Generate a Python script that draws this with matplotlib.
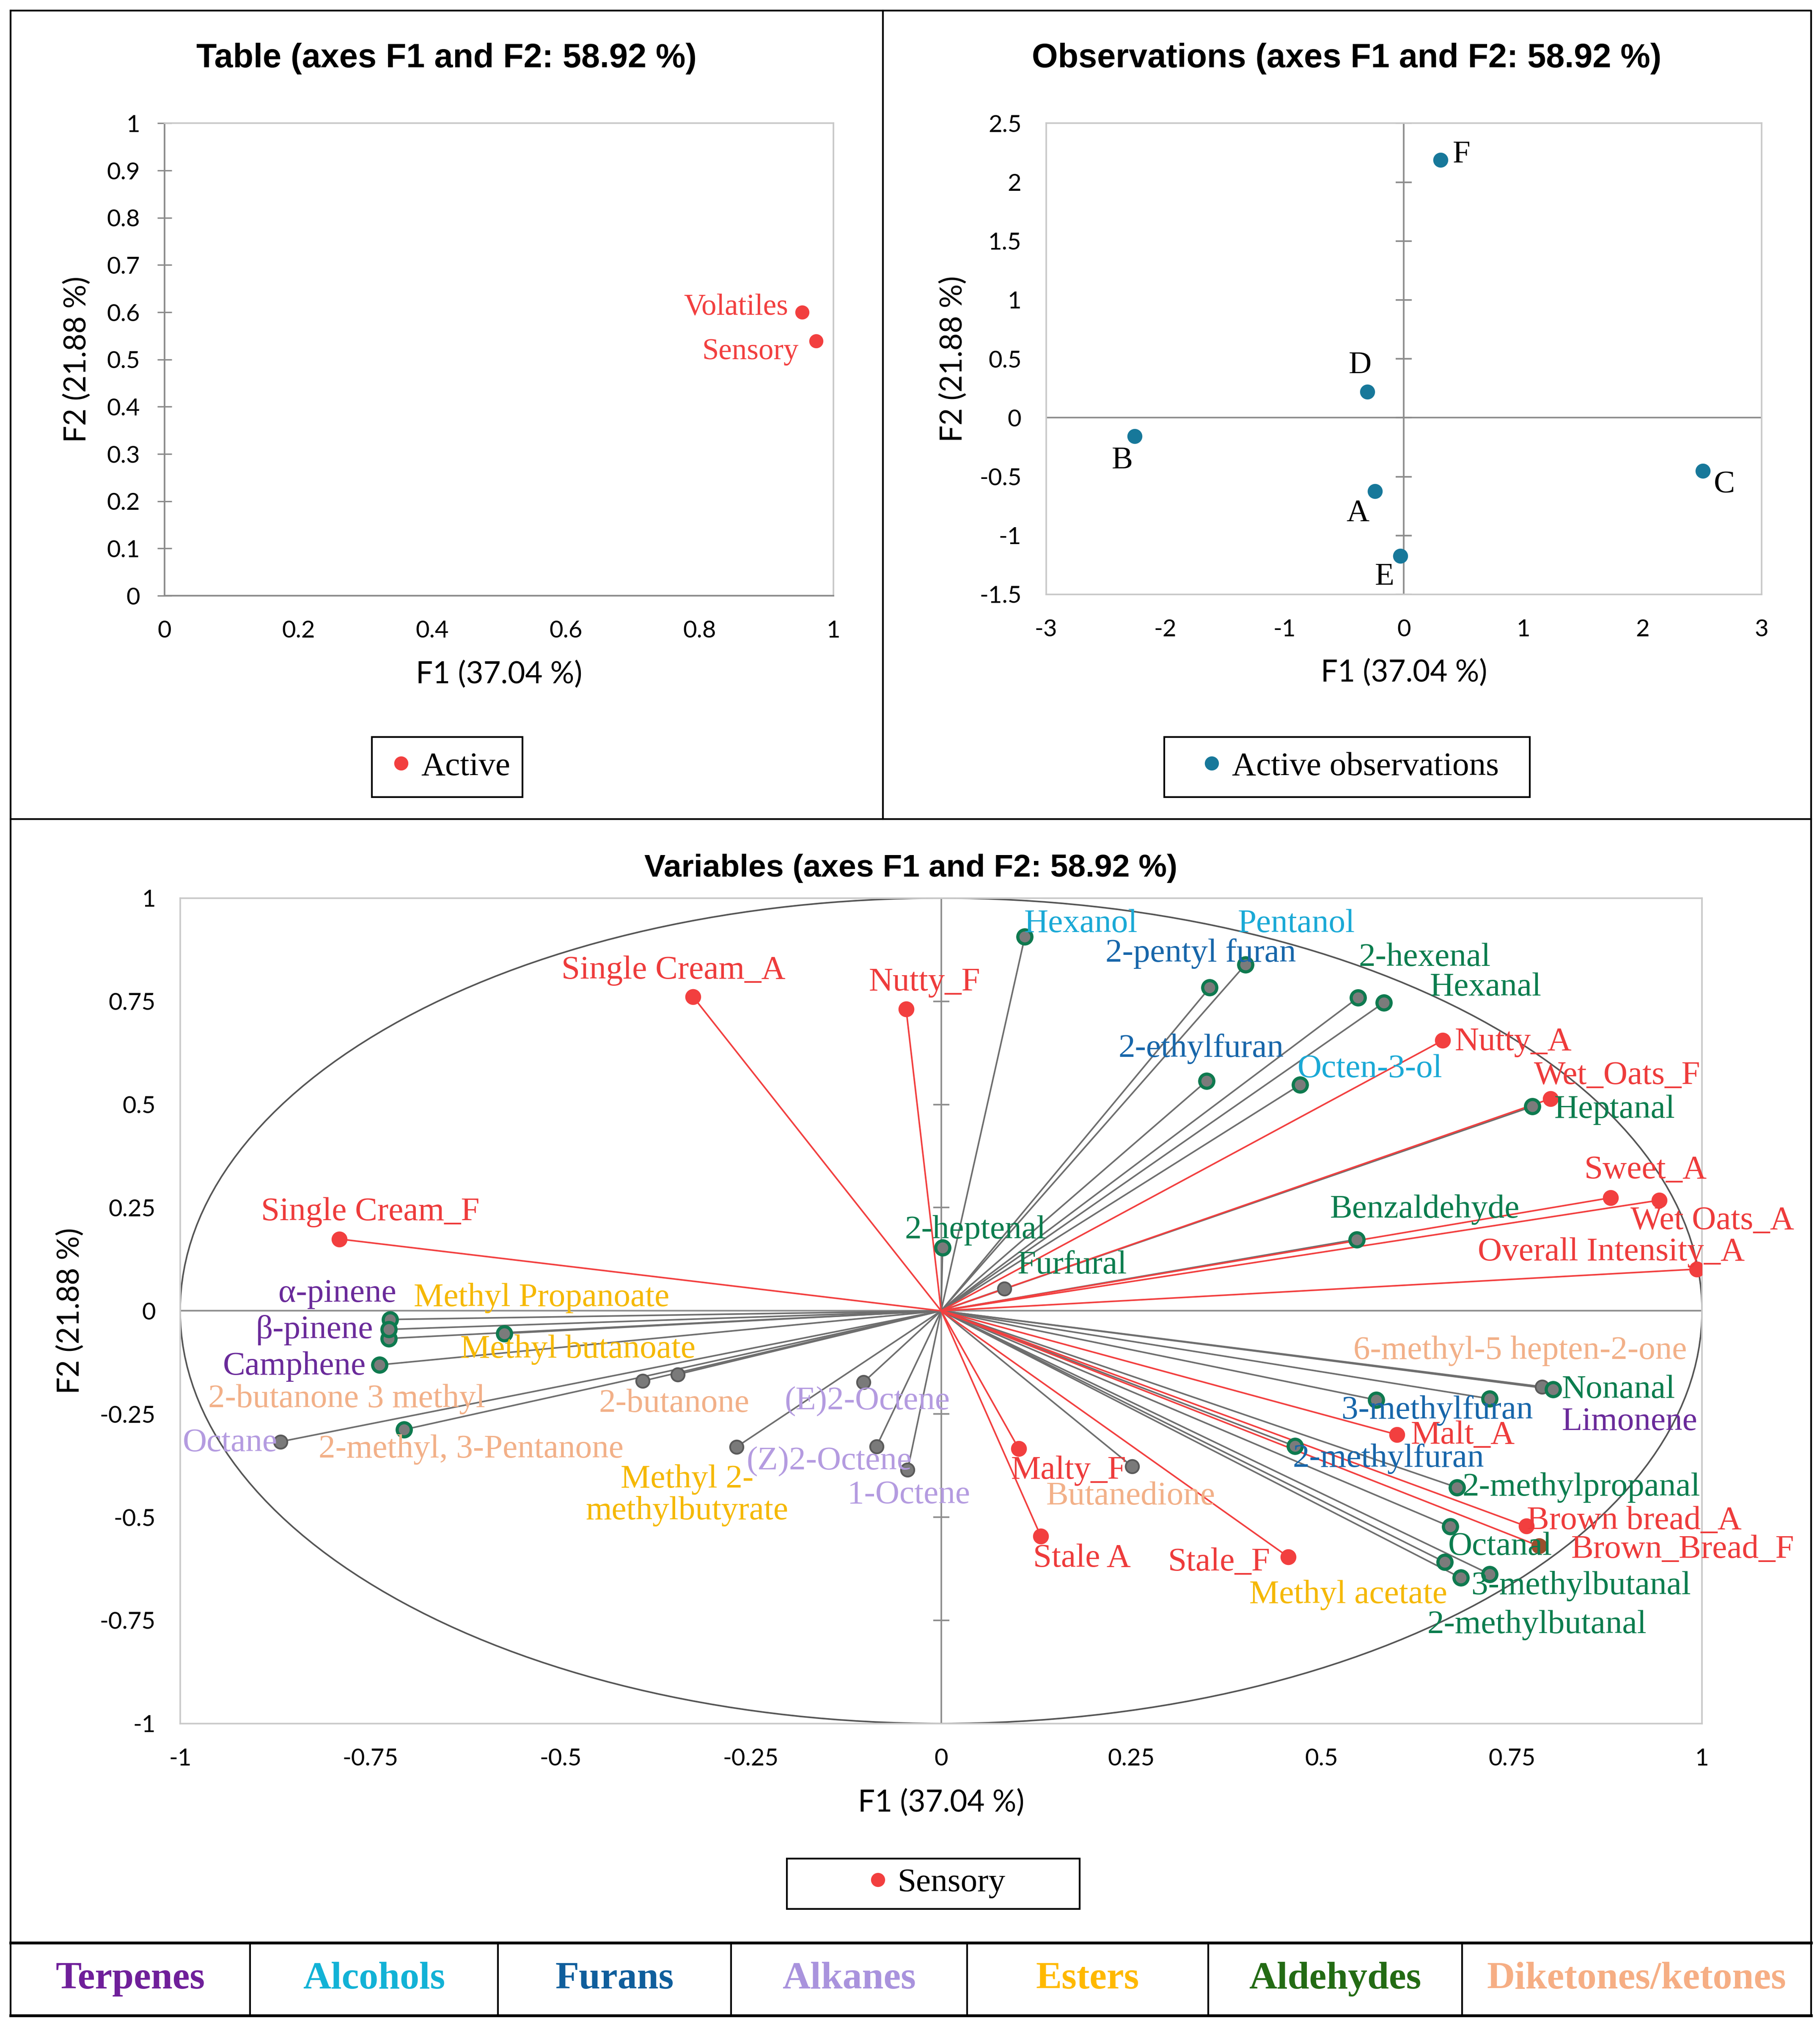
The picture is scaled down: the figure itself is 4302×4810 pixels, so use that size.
import numpy as np
import matplotlib
matplotlib.use('Agg')
import matplotlib.pyplot as plt
from matplotlib.lines import Line2D
from matplotlib.patches import Circle, Rectangle

# ---- data ----
# Table panel
table_names = ['Volatiles', 'Sensory']
table_f1 = [0.953, 0.974]
table_f2 = [0.600, 0.539]

# Observations panel
obs_names = ['A', 'B', 'C', 'D', 'E', 'F']
obs_f1 = [-0.241, -2.256, 2.508, -0.307, -0.030, 0.307]
obs_f2 = [-0.622, -0.155, -0.453, 0.219, -1.175, 2.188]

# Variables panel
var_names = [
    'Single Cream_A', 'Nutty_F', 'Single Cream_F', 'Nutty_A', 'Wet_Oats_F', 'Sweet_A',
    'Wet Oats_A', 'Overall Intensity_A', 'Malty_F', 'Stale A', 'Stale_F', 'Malt_A',
    'Brown bread_A', 'Brown_Bread_F',
    'Hexanol', 'Pentanol', '2-pentyl furan', '2-hexenal', 'Hexanal', '2-ethylfuran',
    'Octen-3-ol', 'Heptanal', 'Benzaldehyde', '2-heptenal', 'Furfural',
    'α-pinene', 'Methyl Propanoate', 'β-pinene', 'Methyl butanoate', 'Camphene',
    '2-butanone 3 methyl', '2-butanone', 'Octane', '2-methyl, 3-Pentanone',
    '(E)2-Octene', 'Methyl 2-\nmethylbutyrate', '(Z)2-Octene', '1-Octene', 'Butanedione',
    '6-methyl-5 hepten-2-one', 'Nonanal', 'Limonene', '3-methylfuran', '2-methylfuran',
    '2-methylpropanal', 'Octanal', 'Methyl acetate', '3-methylbutanal', '2-methylbutanal',
]
var_f1 = [
    -0.326, -0.046, -0.791, 0.659, 0.801, 0.880,
    0.944, 0.993, 0.102, 0.131, 0.456, 0.599,
    0.769, 0.786,
    0.110, 0.400, 0.353, 0.548, 0.582, 0.349,
    0.472, 0.777, 0.546, 0.002, 0.083,
    -0.724, -0.726, -0.726, -0.574, -0.738,
    -0.392, -0.346, -0.868, -0.706,
    -0.102, -0.269, -0.085, -0.044, 0.251,
    0.790, 0.804, 0.721, 0.572, 0.465,
    0.678, 0.669, 0.662, 0.721, 0.683,
]
var_f2 = [
    0.761, 0.731, 0.174, 0.655, 0.514, 0.274,
    0.268, 0.101, -0.334, -0.546, -0.596, -0.300,
    -0.522, -0.570,
    0.906, 0.839, 0.783, 0.759, 0.747, 0.557,
    0.548, 0.495, 0.173, 0.153, 0.054,
    -0.021, -0.067, -0.045, -0.055, -0.131,
    -0.170, -0.154, -0.317, -0.288,
    -0.173, -0.330, -0.329, -0.385, -0.377,
    -0.184, -0.190, -0.213, -0.216, -0.328,
    -0.428, -0.523, -0.609, -0.638, -0.647,
]
var_group = (['Sensory'] * 14 + [
    'Alcohols', 'Alcohols', 'Furans', 'Aldehydes', 'Aldehydes', 'Furans',
    'Alcohols', 'Aldehydes', 'Aldehydes', 'Aldehydes', 'Aldehydes',
    'Terpenes', 'Esters', 'Terpenes', 'Esters', 'Terpenes',
    'Diketones/ketones', 'Diketones/ketones', 'Alkanes', 'Diketones/ketones',
    'Alkanes', 'Esters', 'Alkanes', 'Alkanes', 'Diketones/ketones',
    'Diketones/ketones', 'Aldehydes', 'Terpenes', 'Furans', 'Furans',
    'Aldehydes', 'Aldehydes', 'Esters', 'Aldehydes', 'Aldehydes',
])

categories = ['Terpenes', 'Alcohols', 'Furans', 'Alkanes', 'Esters', 'Aldehydes', 'Diketones/ketones']

# ---- styles ----
RED = '#f23f3f'
OBS = '#17789a'
label_col = {'Sensory': '#ee3b3b', 'Terpenes': '#6a2a9a', 'Alcohols': '#1aa9d6',
             'Furans': '#1766aa', 'Alkanes': '#b49be0', 'Esters': '#f5b800',
             'Aldehydes': '#0b7d4e', 'Diketones/ketones': '#f2b088'}
legend_col = {'Terpenes': '#6f1f9a', 'Alcohols': '#12b2d6', 'Furans': '#0f5e9c',
              'Alkanes': '#a993dd', 'Esters': '#ffb900', 'Aldehydes': '#236b14',
              'Diketones/ketones': '#f6ae84'}
gray_dots = {'Octane', '2-butanone 3 methyl', '2-butanone', '(E)2-Octene', '(Z)2-Octene',
             '1-Octene', 'Methyl 2-\nmethylbutyrate', 'Furfural', 'Butanedione',
             '6-methyl-5 hepten-2-one'}

# where each label sits (x, y, horizontal alignment)
label_pos = {
    'Single Cream_A': (-0.499, 0.824, 'left'), 'Nutty_F': (-0.095, 0.796, 'left'),
    'Single Cream_F': (-0.894, 0.239, 'left'), 'Nutty_A': (0.675, 0.651, 'left'),
    'Wet_Oats_F': (0.779, 0.569, 'left'), 'Sweet_A': (0.845, 0.340, 'left'),
    'Wet Oats_A': (0.906, 0.217, 'left'), 'Overall Intensity_A': (0.705, 0.142, 'left'),
    'Malty_F': (0.092, -0.387, 'left'), 'Stale A': (0.121, -0.601, 'left'),
    'Stale_F': (0.298, -0.610, 'left'), 'Malt_A': (0.617, -0.302, 'left'),
    'Brown bread_A': (0.770, -0.509, 'left'), 'Brown_Bread_F': (0.828, -0.579, 'left'),
    'Hexanol': (0.109, 0.937, 'left'), 'Pentanol': (0.390, 0.937, 'left'),
    '2-pentyl furan': (0.216, 0.865, 'left'), '2-hexenal': (0.549, 0.855, 'left'),
    'Hexanal': (0.642, 0.783, 'left'), '2-ethylfuran': (0.233, 0.635, 'left'),
    'Octen-3-ol': (0.468, 0.585, 'left'), 'Heptanal': (0.806, 0.487, 'left'),
    'Benzaldehyde': (0.511, 0.245, 'left'), '2-heptenal': (-0.048, 0.195, 'left'),
    'Furfural': (0.100, 0.110, 'left'), 'α-pinene': (-0.716, 0.041, 'right'),
    'Methyl Propanoate': (-0.693, 0.031, 'left'), 'β-pinene': (-0.746, -0.047, 'right'),
    'Methyl butanoate': (-0.632, -0.094, 'left'), 'Camphene': (-0.756, -0.135, 'right'),
    '2-butanone 3 methyl': (-0.963, -0.214, 'left'), '2-butanone': (-0.450, -0.226, 'left'),
    'Octane': (-0.997, -0.321, 'left'), '2-methyl, 3-Pentanone': (-0.818, -0.336, 'left'),
    '(E)2-Octene': (-0.206, -0.220, 'left'), 'Methyl 2-\nmethylbutyrate': (-0.334, -0.447, 'center'),
    '(Z)2-Octene': (-0.256, -0.365, 'left'), '1-Octene': (-0.123, -0.447, 'left'),
    'Butanedione': (0.138, -0.450, 'left'), '6-methyl-5 hepten-2-one': (0.542, -0.097, 'left'),
    'Nonanal': (0.816, -0.192, 'left'), 'Limonene': (0.816, -0.270, 'left'),
    '3-methylfuran': (0.526, -0.242, 'left'), '2-methylfuran': (0.462, -0.358, 'left'),
    '2-methylpropanal': (0.685, -0.428, 'left'), 'Octanal': (0.666, -0.572, 'left'),
    'Methyl acetate': (0.405, -0.689, 'left'), '3-methylbutanal': (0.697, -0.667, 'left'),
    '2-methylbutanal': (0.639, -0.761, 'left'),
}

SERIF = 'Liberation Serif'
SANS = 'Lato'
TITLE = 'Liberation Sans'

W, H = 1404.0, 1568.0   # layout grid (reference in reduced pixels)
def fx(p): return p / W
def fy(p): return 1 - p / H

fig = plt.figure(figsize=(4302 / 300, 4810 / 300), dpi=300)


def frame_axes(ax, xt, yt, xlim, ylim):
    ax.set_xlim(*xlim)
    ax.set_ylim(*ylim)
    ax.set_xticks(xt)
    ax.set_yticks(yt)
    fmt = lambda v: f'{v:g}'
    ax.set_xticklabels([fmt(v) for v in xt], fontfamily=SANS, fontsize=13.5)
    ax.set_yticklabels([fmt(v) for v in yt], fontfamily=SANS, fontsize=13.5)
    ax.tick_params(length=0, pad=14)
    for s in ax.spines.values():
        s.set_color('#c9c9c9')
        s.set_linewidth(0.9)
    ax.set_xlabel('F1 (37.04 %)', fontfamily=SANS, fontsize=17)
    ax.set_ylabel('F2 (21.88 %)', fontfamily=SANS, fontsize=17)


# ---- Table panel ----
ax1 = fig.add_axes([fx(127), fy(459), (643 - 127) / W, (459 - 95) / H])
frame_axes(ax1, np.arange(0, 1.01, 0.2), np.arange(0, 1.01, 0.1), (0, 1), (0, 1))
ax1.spines['left'].set_color('#8a8a8a')
ax1.spines['bottom'].set_color('#8a8a8a')
ax1.tick_params(axis='y', direction='inout', length=8, color='#8a8a8a', pad=10)
ax1.xaxis.set_label_coords(0.5, -0.137)
ax1.yaxis.set_label_coords(-0.11, 0.5)
ax1.plot(table_f1, table_f2, 'o', color=RED, ms=7, clip_on=False)
for n, x, y, off in zip(table_names, table_f1, table_f2, [(-8, 3), (-10, -6)]):
    ax1.annotate(n, (x, y), xytext=off, textcoords='offset points', ha='right', va='center',
                 color=RED, fontfamily=SERIF, fontsize=17)
fig.text(fx(344.5), fy(45), 'Table (axes F1 and F2: 58.92 %)', ha='center', va='center',
         fontfamily=TITLE, fontweight='bold', fontsize=19)

# ---- Observations panel ----
ax2 = fig.add_axes([fx(807), fy(458), (1359 - 807) / W, (458 - 95) / H])
yt2 = np.arange(-1.5, 2.51, 0.5)
frame_axes(ax2, np.arange(-3, 3.1, 1), yt2, (-3, 3), (-1.5, 2.5))
ax2.xaxis.set_label_coords(0.5, -0.137)
ax2.yaxis.set_label_coords(-0.11, 0.5)
ax2.axhline(0, color='#8c8c8c', lw=0.9, zorder=1)
ax2.axvline(0, color='#8c8c8c', lw=0.9, zorder=1)
ax2.plot(np.zeros(len(yt2)), yt2, ls='none', marker='_', ms=9, mew=0.9, color='#8c8c8c')
ax2.plot(obs_f1, obs_f2, 'o', color=OBS, ms=7.5, zorder=3)
obs_off = {'A': (-10, -13), 'B': (-7, -14), 'C': (12, -8), 'D': (-4, 15), 'E': (-9, -12), 'F': (12, 3)}
for n, x, y in zip(obs_names, obs_f1, obs_f2):
    ax2.annotate(n, (x, y), xytext=obs_off[n], textcoords='offset points', ha='center', va='center',
                 fontfamily=SERIF, fontsize=18)
fig.text(fx(1039), fy(45), 'Observations (axes F1 and F2: 58.92 %)', ha='center', va='center',
         fontfamily=TITLE, fontweight='bold', fontsize=19)

# ---- Variables panel ----
ax3 = fig.add_axes([fx(139), fy(1328), (1313 - 139) / W, (1328 - 692) / H])
t3 = np.arange(-1, 1.01, 0.25)
frame_axes(ax3, t3, t3, (-1, 1), (-1, 1))
ax3.xaxis.set_label_coords(0.5, -0.079)
ax3.yaxis.set_label_coords(-0.063, 0.5)
ax3.axhline(0, color='#8c8c8c', lw=0.9, zorder=1)
ax3.axvline(0, color='#8c8c8c', lw=0.9, zorder=1)
ax3.plot(np.zeros(len(t3)), t3, ls='none', marker='_', ms=9, mew=0.9, color='#8c8c8c')
ax3.add_patch(Circle((0, 0), 1, fill=False, ec='#555555', lw=0.9, zorder=1))

order = sorted(range(len(var_names)), key=lambda i: var_group[i] == 'Sensory')
for i in order:
    sens = var_group[i] == 'Sensory'
    ax3.plot([0, var_f1[i]], [0, var_f2[i]], color=RED if sens else '#6e6e6e', lw=0.9, zorder=2)
for i in order:
    n = var_names[i]
    if var_group[i] == 'Sensory':
        c = '#9a4e2c' if n == 'Brown_Bread_F' else RED
        ax3.plot(var_f1[i], var_f2[i], 'o', color=c, ms=8, zorder=4)
    elif n in gray_dots:
        ax3.plot(var_f1[i], var_f2[i], 'o', mfc='#7a7a7a', mec='#5a5a5a', mew=1.0, ms=7.5, zorder=3)
    else:
        ax3.plot(var_f1[i], var_f2[i], 'o', mfc='#7b7b7b', mec='#0e7a4f', mew=1.8, ms=8, zorder=3)
    lx, ly, ha = label_pos[n]
    ax3.text(lx, ly, n, ha=ha, va='center', color=label_col[var_group[i]],
             fontfamily=SERIF, fontsize=19, linespacing=1.05, zorder=5)
fig.text(fx(702.5), fy(669), 'Variables (axes F1 and F2: 58.92 %)', ha='center', va='center',
         fontfamily=TITLE, fontweight='bold', fontsize=18)

# ---- legends (boxes drawn separately) ----
def box_legend(label, color, cx, cy, x0, x1, y0, y1):
    fig.add_artist(Rectangle((fx(x0), fy(y1)), (x1 - x0) / W, (y1 - y0) / H, fill=False,
                             ec='black', lw=1.0, transform=fig.transFigure))
    h = Line2D([], [], marker='o', ls='none', color=color, ms=7)
    fig.legend([h], [label], loc='center', bbox_to_anchor=(fx(cx), fy(cy)), frameon=False,
               prop={'family': SERIF, 'size': 19}, handletextpad=0.1, handlelength=1.0,
               borderpad=0.2)

box_legend('Active', RED, 345, 591, 287, 403, 568, 614)
box_legend('Active observations', OBS, 1039, 591, 898, 1180, 568, 614)
box_legend('Sensory', RED, 720, 1451, 607, 833, 1432, 1471)

# ---- panel frames ----
def fline(xs, ys, lw=1.0):
    fig.add_artist(Line2D([fx(v) for v in xs], [fy(v) for v in ys], color='black', lw=lw,
                          transform=fig.transFigure))

fline([8, 1397, 1397, 8, 8], [8, 8, 1553, 1553, 8])
fline([681, 681], [8, 631])
fline([8, 1397], [631, 631])
fline([8, 1397], [1497, 1497], lw=1.6)
fline([8, 1397], [1553, 1553], lw=1.6)
cells = [8, 193, 384, 564, 746, 932, 1128, 1397]
for xd in cells[1:-1]:
    fline([xd, xd], [1497, 1553], lw=1.0)
for k, cat in enumerate(categories):
    fig.text(fx((cells[k] + cells[k + 1]) / 2), fy(1525), cat, ha='center', va='center',
             color=legend_col[cat], fontfamily=SERIF, fontweight='bold', fontsize=22)

fig.savefig('out.png', dpi=300, facecolor='white')
